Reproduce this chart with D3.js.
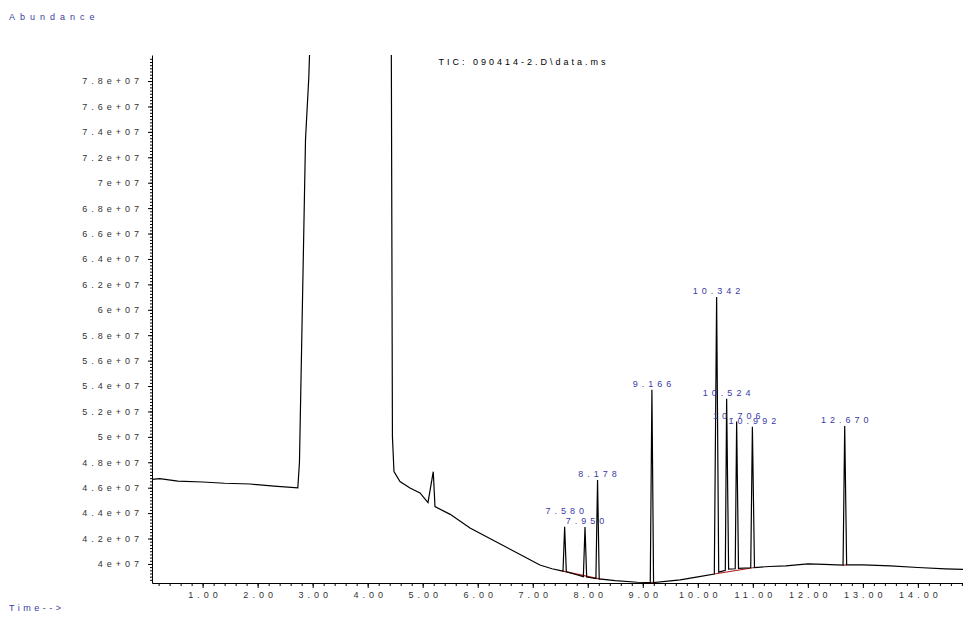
<!DOCTYPE html>
<html>
<head>
<meta charset="utf-8" />
<title>TIC: 090414-2.D\data.ms</title>
<script src="https://cdn.jsdelivr.net/npm/d3@7"></script>
<style>
  body { margin: 0; background: #fff; }
  text { font-family: "Liberation Sans", Arial, sans-serif; }
</style>
</head>
<body>
<script>

// abundance in millions, time in minutes
var traceTime = [0.08, 0.22, 0.55, 1.0, 1.4, 1.86, 2.3, 2.73,
  2.76, 2.87, 2.93, 2.95, 2.97, 4.40, 4.43, 4.45, 4.478,
  4.587, 4.769, 4.951, 5.096, 5.192, 5.223, 5.5, 5.86, 6.41, 6.77, 7.13, 7.35,
  7.55, 7.58, 7.61, 7.8, 7.92, 7.95, 7.98, 8.148, 8.178, 8.208, 8.5, 8.9,
  9.136, 9.166, 9.196, 9.5, 9.68, 10.0, 10.3, 10.342, 10.38, 10.5, 10.524, 10.56,
  10.68, 10.706, 10.74, 10.962, 10.992, 11.03, 11.3, 11.6, 12.0, 12.3,
  12.64, 12.670, 12.705, 13.0, 13.5, 14.0, 14.5, 14.82];
var traceAbund = [46.66, 46.71, 46.51, 46.45, 46.35, 46.29, 46.12, 45.98,
  48.0, 73.4, 78.3, 81.0, 90.0, 90.0, 80.0, 50.0, 47.26,
  46.48, 45.98, 45.59, 44.82, 47.26, 44.51, 43.9, 42.83, 41.57, 40.74, 39.92, 39.62,
  39.43, 42.93, 39.38, 39.15, 39.0, 42.9, 38.97, 38.85, 46.6, 38.82, 38.68, 38.56,
  38.54, 53.7, 38.54, 38.66, 38.74, 38.98, 39.21, 61.0, 39.35, 39.5, 53.0, 39.6,
  39.62, 51.2, 39.66, 39.7, 50.8, 39.72, 39.8, 39.84, 40.0, 39.96,
  39.9, 50.86, 39.93, 39.92, 39.84, 39.72, 39.61, 39.57];

var peakTime = [7.580, 7.950, 8.178, 9.166, 10.342, 10.524, 10.706, 10.992, 12.670];
var peakLabel = ["7.580", "7.950", "8.178", "9.166", "10.342", "10.524", "10.706", "10.992", "12.670"];

// integration baselines
var baseFromTime = [7.55, 9.136, 10.30, 12.64];
var baseFromAbund = [39.43, 38.54, 39.21, 39.9];
var baseToTime = [8.23, 9.196, 11.03, 12.705];
var baseToAbund = [38.80, 38.54, 39.72, 39.93];

var xTickValues = [1, 2, 3, 4, 5, 6, 7, 8, 9, 10, 11, 12, 13, 14];
var xTickLabels = ["1.00", "2.00", "3.00", "4.00", "5.00", "6.00", "7.00",
  "8.00", "9.00", "10.00", "11.00", "12.00", "13.00", "14.00"];
var yTickValues = [40, 42, 44, 46, 48, 50, 52, 54, 56, 58, 60, 62, 64, 66, 68, 70, 72, 74, 76, 78];
var yTickLabels = ["4e+07", "4.2e+07", "4.4e+07", "4.6e+07", "4.8e+07", "5e+07", "5.2e+07",
  "5.4e+07", "5.6e+07", "5.8e+07", "6e+07", "6.2e+07", "6.4e+07", "6.6e+07", "6.8e+07",
  "7e+07", "7.2e+07", "7.4e+07", "7.6e+07", "7.8e+07"];

var width = 963, height = 617;
var plotLeft = 152, plotRight = 963, plotTop = 55, plotBottom = 583;
var blue = '#3a3aa6';

var svg = d3.select('body').append('svg').attr('width', width).attr('height', height);

var x = d3.scaleLinear().domain([0.08, 14.82]).range([plotLeft, plotRight]);
var y = d3.scaleLinear().domain([38.5, 80.05]).range([plotBottom, plotTop]);

svg.append('clipPath').attr('id', 'plot')
  .append('rect').attr('x', plotLeft).attr('y', plotTop)
  .attr('width', plotRight - plotLeft).attr('height', plotBottom - plotTop);

// minor ticks
svg.append('g').attr('transform', 'translate(0,' + plotBottom + ')')
  .call(d3.axisBottom(x).tickValues(d3.range(0.2, 14.81, 0.2)).tickSize(3).tickFormat(''))
  .call(function(g){ g.select('.domain').remove(); });
svg.append('g').attr('transform', 'translate(' + plotLeft + ',0)')
  .call(d3.axisLeft(y).tickValues(d3.range(38.75, 80, 0.25)).tickSize(2).tickFormat(''))
  .call(function(g){ g.select('.domain').remove(); });

var xAxis = svg.append('g').attr('transform', 'translate(0,' + plotBottom + ')')
  .call(d3.axisBottom(x).tickValues(xTickValues).tickSize(5).tickSizeOuter(0).tickPadding(4)
    .tickFormat(function(d, i){ return xTickLabels[i]; }));
var yAxis = svg.append('g').attr('transform', 'translate(' + plotLeft + ',0)')
  .call(d3.axisLeft(y).tickValues(yTickValues).tickSize(4).tickSizeOuter(0).tickPadding(5)
    .tickFormat(function(d, i){ return yTickLabels[i]; }));

svg.selectAll('.tick text').attr('font-family', '"Liberation Sans", Arial, sans-serif')
  .attr('font-size', '9px').attr('fill', '#333').style('letter-spacing', '4px');
xAxis.selectAll('.tick text').attr('dx', 2);
svg.selectAll('.domain, .tick line').attr('stroke', '#000');

// baselines then trace
var base = d3.range(baseFromTime.length);
svg.append('g').selectAll('line').data(base).enter().append('line')
  .attr('x1', function(i){ return x(baseFromTime[i]); })
  .attr('y1', function(i){ return y(baseFromAbund[i]); })
  .attr('x2', function(i){ return x(baseToTime[i]); })
  .attr('y2', function(i){ return y(baseToAbund[i]); })
  .attr('stroke', '#b01818').attr('stroke-width', 1.2);

var line = d3.line().x(function(d){ return x(d[0]); }).y(function(d){ return y(d[1]); });
svg.append('path').attr('d', line(d3.zip(traceTime, traceAbund)))
  .attr('clip-path', 'url(#plot)')
  .attr('fill', 'none').attr('stroke', '#000').attr('stroke-width', 1.2);

// peak labels, placed right to left, lifting a label that sits on another
var placed = [];
var labels = peakTime.map(function(t, i){
  var k = traceTime.indexOf(t);
  return { x: x(t), y: y(traceAbund[k]) - 3, text: peakLabel[i] };
});
for (var i = labels.length - 1; i >= 0; i--) {
  var a = labels[i];
  placed.forEach(function(b){
    if (Math.abs(a.x - b.x) < 48 && Math.abs(a.y - b.y) < 3) a.y = b.y - 10;
  });
  placed.push(a);
}
svg.append('g').selectAll('text').data(labels).enter().append('text')
  .attr('x', function(d){ return d.x; }).attr('y', function(d){ return d.y; })
  .attr('dx', 2).attr('text-anchor', 'middle')
  .attr('font-size', '9px').attr('fill', blue).style('letter-spacing', '4px')
  .text(function(d){ return d.text; });

svg.append('text').attr('x', 9).attr('y', 20).attr('font-size', '9px').attr('fill', blue)
  .style('letter-spacing', '5px').text('Abundance');
svg.append('text').attr('x', 9).attr('y', 611).attr('font-size', '9px').attr('fill', blue)
  .style('letter-spacing', '3.5px').text('Time-->');
svg.append('text').attr('x', 522).attr('y', 65).attr('text-anchor', 'middle').attr('dx', 1.5)
  .attr('font-size', '9px').attr('fill', '#000').style('letter-spacing', '3px')
  .text('TIC: 090414-2.D\\data.ms');

</script>
</body>
</html>
